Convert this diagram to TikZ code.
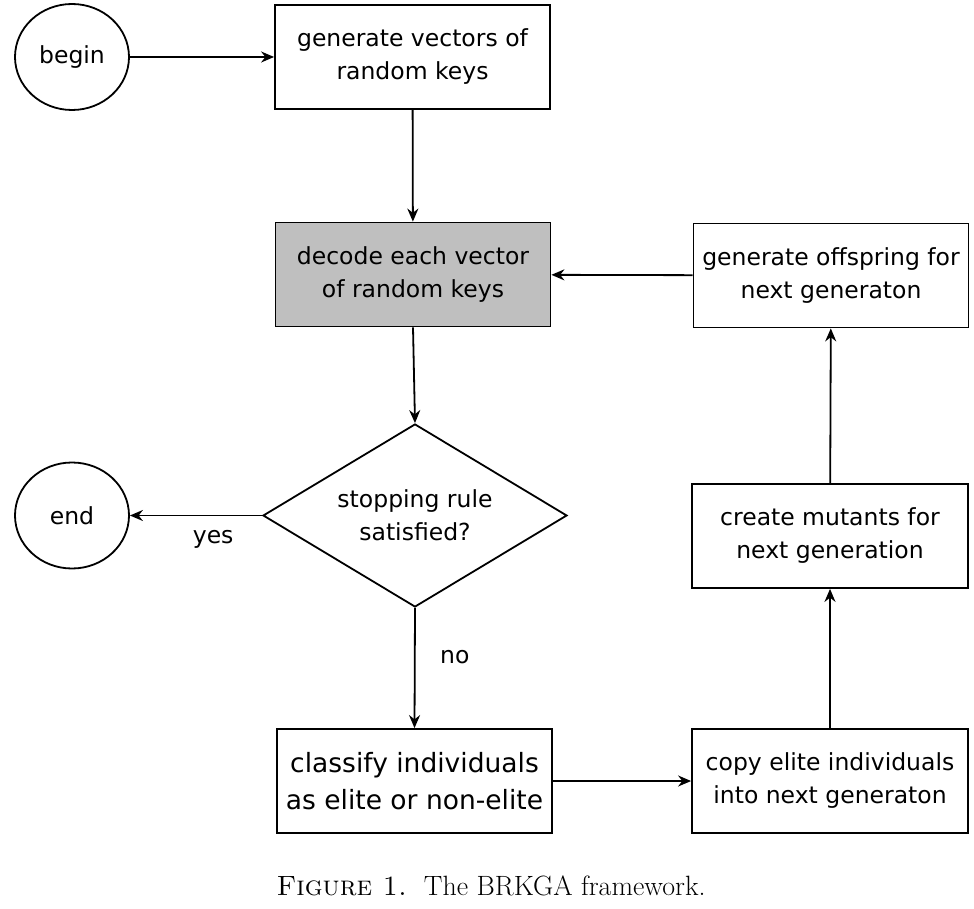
\documentclass[tikz,border=0pt]{standalone}
\usepackage{fontspec}
\usepackage{tikz}
\usetikzlibrary{arrows,arrows.meta,shapes,positioning}
\newfontfamily\boxfont{DejaVu Sans}
\definecolor{boxgray}{RGB}{191,191,191}
\tikzstyle{arrow} = [line width=1.8pt,-{Stealth[length=13pt,width=11pt]},color=black]
\tikzstyle{stepbox} = [draw, line width=1.8pt, rectangle, minimum width=275pt, minimum height=104pt, align=center, inner sep=0pt, font=\boxfont\fontsize{23.5}{33}\selectfont]
\tikzstyle{term} = [draw, line width=1.8pt, ellipse, minimum width=114pt, minimum height=106pt, inner sep=0pt, font=\boxfont\fontsize{23.5}{33}\selectfont]
\tikzstyle{tag} = [font=\boxfont\fontsize{23.5}{33}\selectfont]

\begin{document}
\begin{tikzpicture}[x=1pt,y=-1pt]
\useasboundingbox (0,0) rectangle (974,909);
% Terminals
\node[term] (begin) at (72,57) {begin};
\node[term] (end) at (72,515.5) {end};

% Steps
\node[stepbox] (gen) at (412.5,57) {generate vectors of\\random keys};
\node[stepbox, fill=boxgray] (decode) at (413,274.5) {decode each vector\\of random keys};
\node[stepbox] (offspring) at (831,275.5) {generate offspring for\\next generaton};
\node[stepbox, minimum width=276pt] (mutants) at (830,536) {create mutants for\\next generation};
\node[stepbox, font=\boxfont\fontsize{26.5}{37}\selectfont] (classify) at (414.5,781) {classify individuals\\as elite or non-elite};
\node[stepbox, minimum width=276pt] (copy) at (830,781) {copy elite individuals\\into next generaton};

% Decision
\node[draw, line width=1.8pt, diamond, minimum width=304pt, minimum height=183pt, inner sep=0pt, aspect=1.66, align=center, font=\boxfont\fontsize{23.5}{33}\selectfont] (stop) at (415,515.5) {stopping rule\\satisfied?};

% Flow
\draw[arrow] (begin) -- (gen);
\draw[arrow] (gen) -- (decode);
\draw[arrow] (decode.south) -- (stop.north);
\draw[arrow] (stop.west) -- (end) node[tag, pos=0.37, yshift=-24pt] (yes) {yes};
\draw[arrow] (stop.south) -- (classify.north) node[tag, pos=0.4, xshift=40pt, yshift=-1pt] (no) {no};
\draw[arrow] (classify) -- (copy);
\draw[arrow] (copy) -- (mutants);
\draw[arrow] (mutants) -- (offspring);
\draw[arrow] (offspring) -- (decode);

% Caption
\node[font=\fontsize{27.9}{32}\selectfont] (caption) at (491,886) {\textsc{Figure 1.}\ \ The BRKGA framework.};
\end{tikzpicture}
\end{document}
